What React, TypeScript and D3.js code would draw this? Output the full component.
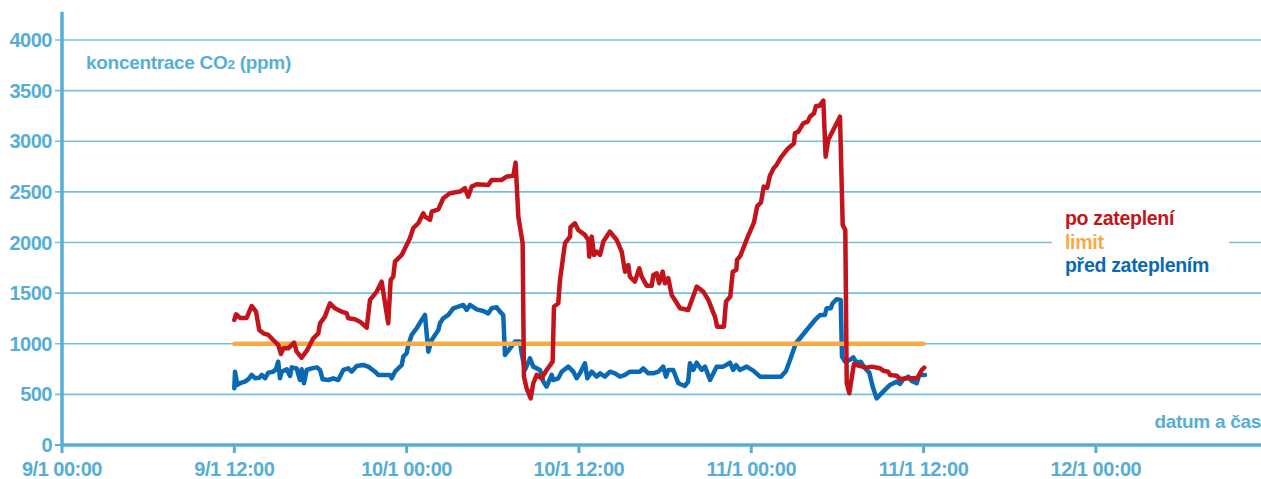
import React from "react";
import * as d3 from "d3";

// time in hours since 9/1 00:00, value in ppm
const poZatepleni: [number, number][] = [
  [12.0, 1235], [12.12, 1291], [12.4, 1255], [12.86, 1255], [13.21, 1373], [13.51, 1317],
  [13.74, 1136], [14.02, 1103], [14.37, 1087], [14.71, 1037], [15.06, 988], [15.25, 899],
  [15.41, 955], [15.76, 955], [16.16, 1011], [16.34, 922], [16.69, 862], [17.08, 939],
  [17.5, 1054], [17.85, 1103], [17.97, 1202], [18.31, 1268], [18.66, 1400], [19.01, 1350],
  [19.48, 1317], [19.83, 1300], [19.94, 1251], [20.4, 1242], [20.75, 1218], [21.22, 1159],
  [21.45, 1433], [21.92, 1515], [22.26, 1613], [22.72, 1202], [22.89, 1630], [23.07, 1663],
  [23.19, 1811], [23.42, 1844], [23.66, 1877], [24.0, 1976], [24.23, 2042], [24.46, 2141],
  [24.81, 2190], [25.16, 2289], [25.28, 2256], [25.63, 2223], [25.75, 2305], [26.21, 2328],
  [26.55, 2437], [27.02, 2487], [27.72, 2503], [28.06, 2536], [28.29, 2453], [28.53, 2552],
  [28.88, 2575], [29.69, 2569], [29.92, 2618], [30.62, 2618], [30.97, 2651], [31.43, 2658],
  [31.59, 2789], [31.78, 2256], [32.08, 1993], [32.17, 675], [32.36, 560], [32.64, 461],
  [32.82, 610], [33.06, 692], [33.4, 659], [33.75, 741], [34.17, 823], [34.26, 1366],
  [34.56, 1400], [34.68, 1630], [35.03, 1993], [35.38, 2058], [35.41, 2151], [35.72, 2190],
  [35.95, 2124], [36.42, 2075], [36.65, 2025], [36.72, 1860], [36.89, 2058], [37.05, 1877],
  [37.24, 1910], [37.47, 1877], [37.7, 2009], [38.16, 2108], [38.63, 2025], [38.98, 1910],
  [39.21, 1712], [39.44, 1778], [39.55, 1663], [39.9, 1613], [40.2, 1746], [40.37, 1663],
  [40.72, 1574], [41.07, 1574], [41.18, 1680], [41.41, 1696], [41.59, 1598], [41.83, 1712],
  [41.99, 1598], [42.22, 1647], [42.46, 1482], [43.04, 1350], [43.61, 1334], [44.2, 1564],
  [44.66, 1515], [45.01, 1433], [45.47, 1268], [45.63, 1169], [46.1, 1169], [46.24, 1416],
  [46.54, 1466], [46.71, 1712], [46.96, 1729], [47.01, 1828], [47.24, 1868], [47.74, 2050],
  [48.19, 2198], [48.42, 2360], [48.68, 2396], [48.87, 2552], [49.11, 2540], [49.3, 2660],
  [49.56, 2733], [49.76, 2766], [50.07, 2840], [50.52, 2922], [50.98, 2980], [51.04, 3078],
  [51.28, 3095], [51.62, 3177], [51.93, 3194], [52.09, 3243], [52.37, 3276], [52.51, 3349],
  [52.74, 3349], [53.02, 3402], [53.18, 2848], [53.36, 3013], [53.71, 3112], [54.18, 3243],
  [54.37, 2174], [54.55, 2124], [54.65, 610], [54.83, 511], [55.15, 800], [55.57, 780],
  [56.04, 764], [56.39, 774], [56.96, 758], [57.19, 734], [57.54, 724], [57.66, 692],
  [58.13, 685], [58.36, 652], [58.94, 659], [59.56, 659], [59.87, 741], [60.05, 764],
];

const predZateplenim: [number, number][] = [
  [12.0, 560], [12.05, 724], [12.21, 593], [12.4, 610], [12.74, 626], [12.97, 649],
  [13.21, 692], [13.44, 659], [13.74, 665], [13.91, 692], [14.14, 659], [14.37, 715],
  [14.71, 724], [14.9, 748], [15.06, 823], [15.18, 659], [15.3, 724], [15.65, 748],
  [15.88, 682], [16.0, 767], [16.34, 757], [16.57, 642], [16.69, 748], [16.85, 610],
  [17.04, 741], [17.39, 757], [17.74, 767], [17.97, 741], [18.15, 649], [18.54, 642],
  [18.89, 659], [19.24, 642], [19.59, 741], [19.94, 757], [20.17, 724], [20.52, 780],
  [20.98, 790], [21.33, 774], [21.8, 724], [22.03, 692], [22.84, 692], [22.96, 659],
  [23.19, 724], [23.66, 790], [23.77, 873], [24.0, 906], [24.12, 988], [24.35, 1087],
  [24.7, 1153], [25.05, 1235], [25.28, 1284], [25.51, 922], [25.75, 1037], [25.98, 1087],
  [26.21, 1136], [26.32, 1202], [26.55, 1251], [26.9, 1284], [27.25, 1350], [27.6, 1366],
  [27.95, 1383], [28.18, 1334], [28.41, 1383], [28.88, 1340], [29.34, 1324], [29.69, 1300],
  [29.92, 1350], [30.27, 1360], [30.5, 1317], [30.73, 1284], [30.85, 889], [31.2, 955],
  [31.55, 1021], [31.89, 1021], [32.01, 906], [32.24, 741], [32.59, 856], [32.82, 774],
  [33.29, 741], [33.52, 626], [33.75, 576], [34.1, 692], [34.21, 642], [34.56, 659],
  [34.8, 724], [35.26, 774], [35.61, 724], [35.84, 659], [36.07, 708], [36.42, 807],
  [36.58, 659], [36.89, 724], [37.24, 675], [37.47, 708], [37.81, 675], [38.16, 724],
  [38.51, 708], [38.86, 675], [39.21, 692], [39.55, 724], [40.25, 724], [40.48, 757],
  [40.83, 708], [41.18, 708], [41.53, 724], [41.87, 774], [42.06, 675], [42.22, 741],
  [42.57, 741], [42.92, 610], [43.38, 583], [43.61, 626], [43.73, 807], [43.96, 741],
  [44.2, 813], [44.55, 741], [44.78, 774], [45.13, 642], [45.59, 774], [46.05, 774],
  [46.52, 813], [46.75, 741], [46.94, 790], [47.21, 741], [47.68, 774], [48.14, 734],
  [48.61, 675], [50.07, 675], [50.42, 730], [50.7, 840], [51.11, 1005], [51.86, 1136],
  [52.44, 1235], [52.79, 1284], [53.13, 1284], [53.25, 1350], [53.53, 1350], [53.67, 1400],
  [53.95, 1440], [54.23, 1433], [54.32, 873], [54.53, 823], [54.87, 840], [55.11, 866],
  [55.34, 813], [55.62, 823], [55.92, 758], [56.22, 715], [56.46, 576], [56.73, 461],
  [57.19, 527], [57.66, 593], [58.13, 626], [58.36, 603], [58.59, 649], [58.94, 675],
  [59.17, 632], [59.52, 610], [59.7, 692], [60.1, 692],
];

const limit: [number, number][] = [
  [12, 1000],
  [60, 1000],
];

const xTickHours = [0, 12, 24, 36, 48, 60, 72];
const xTickLabels = ["9/1 00:00", "9/1 12:00", "10/1 00:00", "10/1 12:00", "11/1 00:00", "11/1 12:00", "12/1 00:00"];
const yTicks = [0, 500, 1000, 1500, 2000, 2500, 3000, 3500, 4000];

const legendLabels = ["po zateplení", "limit", "před zateplením"];

const W = 1261;
const H = 479;
const AXIS = "#56aed6";
const GRID = "#76bfdd";
const RED = "#c4141b";
const ORANGE = "#f7aa43";
const BLUE = "#0a69b3";
const FONT = "'Liberation Sans', Arial, Helvetica, sans-serif";

export default function App() {
  const x = d3.scaleLinear().domain([0, 83.5]).range([62, 1261]);
  const y = d3.scaleLinear().domain([0, 4000]).range([445, 40]);
  const line = d3
    .line<[number, number]>()
    .x((d) => x(d[0]))
    .y((d) => y(d[1]));

  const x0 = x(0);
  const y0 = y(0);
  const yTop = y(4280);

  const legendColors = [RED, ORANGE, BLUE];

  return (
    <svg
      width={W}
      height={H}
      style={{ position: "absolute", left: 0, top: 0, display: "block", background: "#fff" }}
      fontFamily={FONT}
    >
      {/* gridlines */}
      {yTicks.slice(1).map((t) => (
        <line key={t} x1={x0 - 7} x2={W} y1={y(t)} y2={y(t)} stroke={GRID} strokeWidth={1.6} />
      ))}
      <line x1={x0 - 7} x2={x0} y1={y0} y2={y0} stroke={AXIS} strokeWidth={2} />
      {/* y labels */}
      {yTicks.map((t) => (
        <text key={t} x={52} y={y(t) + 7} textAnchor="end" fontSize={20} fontWeight="bold" fill={AXIS} letterSpacing={-0.5}>
          {t}
        </text>
      ))}
      {/* x ticks & labels */}
      {xTickHours.map((h, i) => (
        <g key={h}>
          <line x1={x(h)} x2={x(h)} y1={y0} y2={y0 + 8} stroke={AXIS} strokeWidth={3} />
          <text x={x(h)} y={476} textAnchor="middle" fontSize={20} fontWeight="bold" fill={AXIS} letterSpacing={-0.5}>
            {xTickLabels[i]}
          </text>
        </g>
      ))}
      {/* axes */}
      <line x1={x0} x2={x0} y1={yTop} y2={y0 + 1.5} stroke={AXIS} strokeWidth={3.5} />
      <line x1={x0} x2={W} y1={y0} y2={y0} stroke={AXIS} strokeWidth={3.5} />

      {/* axis titles */}
      <text x={86} y={69} fontSize={19} fontWeight="bold" fill={AXIS} letterSpacing={-0.3}>
        koncentrace CO<tspan fontSize={13.5}>2</tspan> (ppm)
      </text>
      <text x={1261} y={428} textAnchor="end" fontSize={19} fontWeight="bold" fill={AXIS} letterSpacing={-0.3}>
        datum a čas
      </text>

      {/* series */}
      <path d={line(predZateplenim) || ""} fill="none" stroke={BLUE} strokeWidth={4.5} strokeLinejoin="round" strokeLinecap="round" />
      <path d={line(limit) || ""} fill="none" stroke={ORANGE} strokeWidth={4.5} strokeLinecap="round" />
      <path d={line(poZatepleni) || ""} fill="none" stroke={RED} strokeWidth={4.5} strokeLinejoin="round" strokeLinecap="round" />

      {/* legend */}
      <rect x={1052} y={200} width={177} height={82} fill="#fff" />
      {legendLabels.map((l, i) => (
        <text key={l} x={1065} y={225 + i * 23.5} fontSize={19.5} fontWeight="bold" fill={legendColors[i]} letterSpacing={-0.3}>
          {l}
        </text>
      ))}
    </svg>
  );
}
